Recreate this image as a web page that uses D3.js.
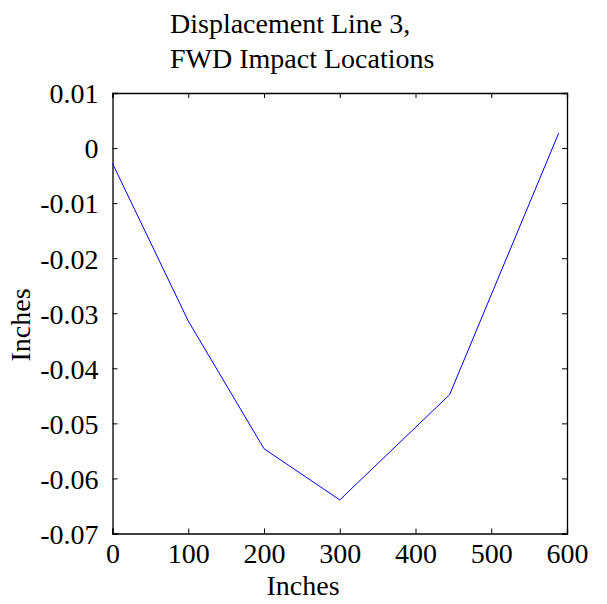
<!DOCTYPE html>
<html>
<head>
<meta charset="utf-8">
<script src="https://cdn.jsdelivr.net/npm/d3@7"></script>
<style>
  body { margin: 0; background: #fff; }
  text { font-family: "Liberation Serif", "Times New Roman", serif; fill: #000; }
</style>
</head>
<body>
<svg id="chart" width="607" height="604"></svg>
<script>
// station positions along the line (inches) and measured displacement (inches)
const stations = [0, 100, 200, 300, 445, 589];
const displacement = [-0.0028, -0.0314, -0.0546, -0.0639, -0.0448, 0.0027];
const xTicks = [0, 100, 200, 300, 400, 500, 600];
const yTicks = [0.01, 0, -0.01, -0.02, -0.03, -0.04, -0.05, -0.06, -0.07];
const titleLines = ["Displacement Line 3,", "FWD Impact Locations"];

const margin = {left: 112.5, right: 607 - 567, top: 93, bottom: 604 - 533.5};
const width = 607, height = 604;
const svg = d3.select("#chart");

const x = d3.scaleLinear().domain([0, 600]).range([margin.left, width - margin.right]);
const y = d3.scaleLinear().domain([-0.07, 0.01]).range([height - margin.bottom, margin.top]);

const fmtY = d => d === 0 ? "0" : d3.format(".2f")(d).replace("−", "-");
const tickLen = 5;

// axes: ticks point inward, mirrored on top and right
const gBottom = svg.append("g").attr("transform", "translate(0," + y(-0.07) + ")")
  .call(d3.axisBottom(x).tickValues(xTicks).tickSize(-tickLen).tickPadding(14).tickFormat(d3.format("d")));
const gTop = svg.append("g").attr("transform", "translate(0," + y(0.01) + ")")
  .call(d3.axisTop(x).tickValues(xTicks).tickSize(-tickLen).tickFormat(""));
const gLeft = svg.append("g").attr("transform", "translate(" + x(0) + ",0)")
  .call(d3.axisLeft(y).tickValues(yTicks).tickSize(-tickLen).tickPadding(14).tickFormat(fmtY));
const gRight = svg.append("g").attr("transform", "translate(" + x(600) + ",0)")
  .call(d3.axisRight(y).tickValues(yTicks).tickSize(-tickLen).tickFormat(""));

[gBottom, gTop, gLeft, gRight].forEach(g => {
  g.select(".domain").attr("stroke", "#000").attr("stroke-width", 1.3);
  g.selectAll(".tick line").attr("stroke", "#000");
  g.selectAll(".tick text").style("font-size", "28px").attr("fill", "#000")
    .style("font-family", "'Liberation Serif', serif");
});
gBottom.selectAll(".tick text").attr("dy", "0.55em");
gLeft.selectAll(".tick text").attr("dy", "0.35em");

// data line
const line = d3.line().x((d, i) => x(stations[i])).y(d => y(d));
svg.append("path")
  .datum(displacement)
  .attr("fill", "none")
  .attr("stroke", "#0000ff")
  .attr("stroke-width", 1)
  .attr("d", line);

// title
svg.append("g").selectAll("text").data(titleLines).join("text")
  .attr("x", 170)
  .attr("y", (d, i) => 33 + i * 35)
  .style("font-size", "28px")
  .text(d => d);

// axis labels
svg.append("text")
  .attr("x", 303).attr("y", 595)
  .attr("text-anchor", "middle")
  .style("font-size", "28px")
  .text("Inches");
svg.append("text")
  .attr("transform", "translate(30,325) rotate(-90)")
  .attr("text-anchor", "middle")
  .style("font-size", "28px")
  .text("Inches");
</script>
</body>
</html>
